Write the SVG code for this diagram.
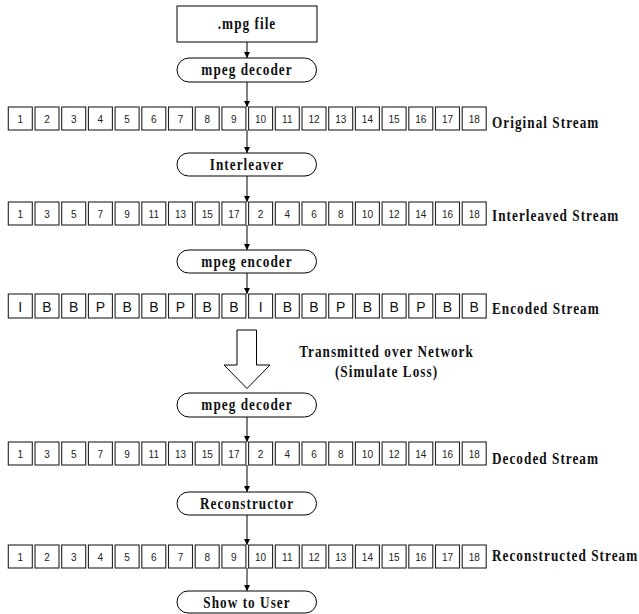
<svg xmlns="http://www.w3.org/2000/svg" width="639" height="614" viewBox="0 0 639 614">
<style>
.bg{fill:#fff}
.node{fill:#fff;stroke:#000;stroke-width:1}
.cell{fill:#fff;stroke:#222;stroke-width:1.1}
.num{font-family:"Liberation Sans",Arial,sans-serif;font-size:10px;fill:#222;text-anchor:middle}
.let{font-family:"Liberation Sans",Arial,sans-serif;font-size:14px;fill:#111;text-anchor:middle}
.lbl{font-family:"Liberation Serif","Times New Roman",serif;font-weight:bold;font-size:16.5px;letter-spacing:1.3px;fill:#111}
.mid{text-anchor:middle}
.conn line{stroke:#000;stroke-width:1;fill:none}
</style>
<defs>
<marker id="ah" markerUnits="userSpaceOnUse" markerWidth="7" markerHeight="7" refX="6" refY="3" orient="auto">
<path d="M0,0 L6,3 L0,6 z" fill="#000"/>
</marker>
</defs>
<rect class="bg" x="0" y="0" width="639" height="614"/>

<g id="connectors" class="conn">
<line x1="247" y1="42" x2="247" y2="58" marker-end="url(#ah)"/>
<line x1="247" y1="82" x2="247" y2="107" marker-end="url(#ah)"/>
<line x1="247" y1="130" x2="247" y2="153" marker-end="url(#ah)"/>
<line x1="247" y1="176" x2="247" y2="202" marker-end="url(#ah)"/>
<line x1="247" y1="225" x2="247" y2="250" marker-end="url(#ah)"/>
<line x1="247" y1="273" x2="247" y2="294" marker-end="url(#ah)"/>
<line x1="247" y1="417" x2="247" y2="442" marker-end="url(#ah)"/>
<line x1="247" y1="465" x2="247" y2="492" marker-end="url(#ah)"/>
<line x1="247" y1="515" x2="247" y2="545" marker-end="url(#ah)"/>
<line x1="247" y1="568" x2="247" y2="591" marker-end="url(#ah)"/>
<path id="bigarrow" d="M237,330 H256.5 V365 H270 L247,388.5 L224,365 H237 Z" fill="#fff" stroke="#000" stroke-width="1"/>
</g>

<g id="mpgfile">
<rect class="node" x="177" y="6" width="140" height="36"/>
<text class="lbl mid" transform="translate(247,28.5) scale(0.8,1)">.mpg file</text>
</g>

<g id="decoder1">
<rect class="node" x="177" y="58" width="139.5" height="24" rx="12" ry="12"/>
<text class="lbl mid" transform="translate(247,75) scale(0.8,1)">mpeg decoder</text>
</g>

<g id="original">
<rect class="cell" x="8.3" y="107" width="24" height="23"/><text class="num" x="20.3" y="122.5">1</text>
<rect class="cell" x="35" y="107" width="24" height="23"/><text class="num" x="47" y="122.5">2</text>
<rect class="cell" x="61.7" y="107" width="24" height="23"/><text class="num" x="73.7" y="122.5">3</text>
<rect class="cell" x="88.4" y="107" width="24" height="23"/><text class="num" x="100.4" y="122.5">4</text>
<rect class="cell" x="115.1" y="107" width="24" height="23"/><text class="num" x="127.1" y="122.5">5</text>
<rect class="cell" x="141.8" y="107" width="24" height="23"/><text class="num" x="153.8" y="122.5">6</text>
<rect class="cell" x="168.5" y="107" width="24" height="23"/><text class="num" x="180.5" y="122.5">7</text>
<rect class="cell" x="195.2" y="107" width="24" height="23"/><text class="num" x="207.2" y="122.5">8</text>
<rect class="cell" x="221.9" y="107" width="24" height="23"/><text class="num" x="233.9" y="122.5">9</text>
<rect class="cell" x="248.6" y="107" width="24" height="23"/><text class="num" x="260.6" y="122.5">10</text>
<rect class="cell" x="275.3" y="107" width="24" height="23"/><text class="num" x="287.3" y="122.5">11</text>
<rect class="cell" x="302" y="107" width="24" height="23"/><text class="num" x="314" y="122.5">12</text>
<rect class="cell" x="328.7" y="107" width="24" height="23"/><text class="num" x="340.7" y="122.5">13</text>
<rect class="cell" x="355.4" y="107" width="24" height="23"/><text class="num" x="367.4" y="122.5">14</text>
<rect class="cell" x="382.1" y="107" width="24" height="23"/><text class="num" x="394.1" y="122.5">15</text>
<rect class="cell" x="408.8" y="107" width="24" height="23"/><text class="num" x="420.8" y="122.5">16</text>
<rect class="cell" x="435.5" y="107" width="24" height="23"/><text class="num" x="447.5" y="122.5">17</text>
<rect class="cell" x="462.2" y="107" width="24" height="23"/><text class="num" x="474.2" y="122.5">18</text>
<text class="lbl" transform="translate(492,127.5) scale(0.8,1)">Original Stream</text>
</g>

<g id="interleaver">
<rect class="node" x="177" y="153" width="139.5" height="23" rx="11.5" ry="11.5"/>
<text class="lbl mid" transform="translate(247,170) scale(0.8,1)">Interleaver</text>
</g>

<g id="interleaved">
<rect class="cell" x="8.3" y="202" width="24" height="23"/><text class="num" x="20.3" y="217.5">1</text>
<rect class="cell" x="35" y="202" width="24" height="23"/><text class="num" x="47" y="217.5">3</text>
<rect class="cell" x="61.7" y="202" width="24" height="23"/><text class="num" x="73.7" y="217.5">5</text>
<rect class="cell" x="88.4" y="202" width="24" height="23"/><text class="num" x="100.4" y="217.5">7</text>
<rect class="cell" x="115.1" y="202" width="24" height="23"/><text class="num" x="127.1" y="217.5">9</text>
<rect class="cell" x="141.8" y="202" width="24" height="23"/><text class="num" x="153.8" y="217.5">11</text>
<rect class="cell" x="168.5" y="202" width="24" height="23"/><text class="num" x="180.5" y="217.5">13</text>
<rect class="cell" x="195.2" y="202" width="24" height="23"/><text class="num" x="207.2" y="217.5">15</text>
<rect class="cell" x="221.9" y="202" width="24" height="23"/><text class="num" x="233.9" y="217.5">17</text>
<rect class="cell" x="248.6" y="202" width="24" height="23"/><text class="num" x="260.6" y="217.5">2</text>
<rect class="cell" x="275.3" y="202" width="24" height="23"/><text class="num" x="287.3" y="217.5">4</text>
<rect class="cell" x="302" y="202" width="24" height="23"/><text class="num" x="314" y="217.5">6</text>
<rect class="cell" x="328.7" y="202" width="24" height="23"/><text class="num" x="340.7" y="217.5">8</text>
<rect class="cell" x="355.4" y="202" width="24" height="23"/><text class="num" x="367.4" y="217.5">10</text>
<rect class="cell" x="382.1" y="202" width="24" height="23"/><text class="num" x="394.1" y="217.5">12</text>
<rect class="cell" x="408.8" y="202" width="24" height="23"/><text class="num" x="420.8" y="217.5">14</text>
<rect class="cell" x="435.5" y="202" width="24" height="23"/><text class="num" x="447.5" y="217.5">16</text>
<rect class="cell" x="462.2" y="202" width="24" height="23"/><text class="num" x="474.2" y="217.5">18</text>
<text class="lbl" transform="translate(492,221) scale(0.8,1)">Interleaved Stream</text>
</g>

<g id="encoder">
<rect class="node" x="177" y="250" width="139.5" height="23" rx="11.5" ry="11.5"/>
<text class="lbl mid" transform="translate(247,266.5) scale(0.8,1)">mpeg encoder</text>
</g>

<g id="encoded">
<rect class="cell" x="8.3" y="294" width="24" height="24"/><text class="let" x="20.3" y="311.5">I</text>
<rect class="cell" x="35" y="294" width="24" height="24"/><text class="let" x="47" y="311.5">B</text>
<rect class="cell" x="61.7" y="294" width="24" height="24"/><text class="let" x="73.7" y="311.5">B</text>
<rect class="cell" x="88.4" y="294" width="24" height="24"/><text class="let" x="100.4" y="311.5">P</text>
<rect class="cell" x="115.1" y="294" width="24" height="24"/><text class="let" x="127.1" y="311.5">B</text>
<rect class="cell" x="141.8" y="294" width="24" height="24"/><text class="let" x="153.8" y="311.5">B</text>
<rect class="cell" x="168.5" y="294" width="24" height="24"/><text class="let" x="180.5" y="311.5">P</text>
<rect class="cell" x="195.2" y="294" width="24" height="24"/><text class="let" x="207.2" y="311.5">B</text>
<rect class="cell" x="221.9" y="294" width="24" height="24"/><text class="let" x="233.9" y="311.5">B</text>
<rect class="cell" x="248.6" y="294" width="24" height="24"/><text class="let" x="260.6" y="311.5">I</text>
<rect class="cell" x="275.3" y="294" width="24" height="24"/><text class="let" x="287.3" y="311.5">B</text>
<rect class="cell" x="302" y="294" width="24" height="24"/><text class="let" x="314" y="311.5">B</text>
<rect class="cell" x="328.7" y="294" width="24" height="24"/><text class="let" x="340.7" y="311.5">P</text>
<rect class="cell" x="355.4" y="294" width="24" height="24"/><text class="let" x="367.4" y="311.5">B</text>
<rect class="cell" x="382.1" y="294" width="24" height="24"/><text class="let" x="394.1" y="311.5">B</text>
<rect class="cell" x="408.8" y="294" width="24" height="24"/><text class="let" x="420.8" y="311.5">P</text>
<rect class="cell" x="435.5" y="294" width="24" height="24"/><text class="let" x="447.5" y="311.5">B</text>
<rect class="cell" x="462.2" y="294" width="24" height="24"/><text class="let" x="474.2" y="311.5">B</text>
<text class="lbl" transform="translate(492,314) scale(0.8,1)">Encoded Stream</text>
</g>

<g id="network">
<text class="lbl mid" transform="translate(386.5,356.5) scale(0.8,1)">Transmitted over Network</text>
<text class="lbl mid" transform="translate(386.5,376.5) scale(0.8,1)">(Simulate Loss)</text>
</g>

<g id="decoder2">
<rect class="node" x="177" y="393" width="139.5" height="24" rx="12" ry="12"/>
<text class="lbl mid" transform="translate(247,410) scale(0.8,1)">mpeg decoder</text>
</g>

<g id="decoded">
<rect class="cell" x="8.3" y="442" width="24" height="23"/><text class="num" x="20.3" y="457.5">1</text>
<rect class="cell" x="35" y="442" width="24" height="23"/><text class="num" x="47" y="457.5">3</text>
<rect class="cell" x="61.7" y="442" width="24" height="23"/><text class="num" x="73.7" y="457.5">5</text>
<rect class="cell" x="88.4" y="442" width="24" height="23"/><text class="num" x="100.4" y="457.5">7</text>
<rect class="cell" x="115.1" y="442" width="24" height="23"/><text class="num" x="127.1" y="457.5">9</text>
<rect class="cell" x="141.8" y="442" width="24" height="23"/><text class="num" x="153.8" y="457.5">11</text>
<rect class="cell" x="168.5" y="442" width="24" height="23"/><text class="num" x="180.5" y="457.5">13</text>
<rect class="cell" x="195.2" y="442" width="24" height="23"/><text class="num" x="207.2" y="457.5">15</text>
<rect class="cell" x="221.9" y="442" width="24" height="23"/><text class="num" x="233.9" y="457.5">17</text>
<rect class="cell" x="248.6" y="442" width="24" height="23"/><text class="num" x="260.6" y="457.5">2</text>
<rect class="cell" x="275.3" y="442" width="24" height="23"/><text class="num" x="287.3" y="457.5">4</text>
<rect class="cell" x="302" y="442" width="24" height="23"/><text class="num" x="314" y="457.5">6</text>
<rect class="cell" x="328.7" y="442" width="24" height="23"/><text class="num" x="340.7" y="457.5">8</text>
<rect class="cell" x="355.4" y="442" width="24" height="23"/><text class="num" x="367.4" y="457.5">10</text>
<rect class="cell" x="382.1" y="442" width="24" height="23"/><text class="num" x="394.1" y="457.5">12</text>
<rect class="cell" x="408.8" y="442" width="24" height="23"/><text class="num" x="420.8" y="457.5">14</text>
<rect class="cell" x="435.5" y="442" width="24" height="23"/><text class="num" x="447.5" y="457.5">16</text>
<rect class="cell" x="462.2" y="442" width="24" height="23"/><text class="num" x="474.2" y="457.5">18</text>
<text class="lbl" transform="translate(492,464) scale(0.8,1)">Decoded Stream</text>
</g>

<g id="reconstructor">
<rect class="node" x="177" y="492" width="139.5" height="23" rx="11.5" ry="11.5"/>
<text class="lbl mid" transform="translate(247,508.5) scale(0.8,1)">Reconstructor</text>
</g>

<g id="reconstructed">
<rect class="cell" x="8.3" y="545" width="24" height="23"/><text class="num" x="20.3" y="560.5">1</text>
<rect class="cell" x="35" y="545" width="24" height="23"/><text class="num" x="47" y="560.5">2</text>
<rect class="cell" x="61.7" y="545" width="24" height="23"/><text class="num" x="73.7" y="560.5">3</text>
<rect class="cell" x="88.4" y="545" width="24" height="23"/><text class="num" x="100.4" y="560.5">4</text>
<rect class="cell" x="115.1" y="545" width="24" height="23"/><text class="num" x="127.1" y="560.5">5</text>
<rect class="cell" x="141.8" y="545" width="24" height="23"/><text class="num" x="153.8" y="560.5">6</text>
<rect class="cell" x="168.5" y="545" width="24" height="23"/><text class="num" x="180.5" y="560.5">7</text>
<rect class="cell" x="195.2" y="545" width="24" height="23"/><text class="num" x="207.2" y="560.5">8</text>
<rect class="cell" x="221.9" y="545" width="24" height="23"/><text class="num" x="233.9" y="560.5">9</text>
<rect class="cell" x="248.6" y="545" width="24" height="23"/><text class="num" x="260.6" y="560.5">10</text>
<rect class="cell" x="275.3" y="545" width="24" height="23"/><text class="num" x="287.3" y="560.5">11</text>
<rect class="cell" x="302" y="545" width="24" height="23"/><text class="num" x="314" y="560.5">12</text>
<rect class="cell" x="328.7" y="545" width="24" height="23"/><text class="num" x="340.7" y="560.5">13</text>
<rect class="cell" x="355.4" y="545" width="24" height="23"/><text class="num" x="367.4" y="560.5">14</text>
<rect class="cell" x="382.1" y="545" width="24" height="23"/><text class="num" x="394.1" y="560.5">15</text>
<rect class="cell" x="408.8" y="545" width="24" height="23"/><text class="num" x="420.8" y="560.5">16</text>
<rect class="cell" x="435.5" y="545" width="24" height="23"/><text class="num" x="447.5" y="560.5">17</text>
<rect class="cell" x="462.2" y="545" width="24" height="23"/><text class="num" x="474.2" y="560.5">18</text>
<text class="lbl" transform="translate(492,561) scale(0.8,1)">Reconstructed Stream</text>
</g>

<g id="showuser">
<rect class="node" x="177" y="591" width="139.5" height="22" rx="11" ry="11"/>
<text class="lbl mid" transform="translate(247,607.5) scale(0.8,1)">Show to User</text>
</g>
</svg>
